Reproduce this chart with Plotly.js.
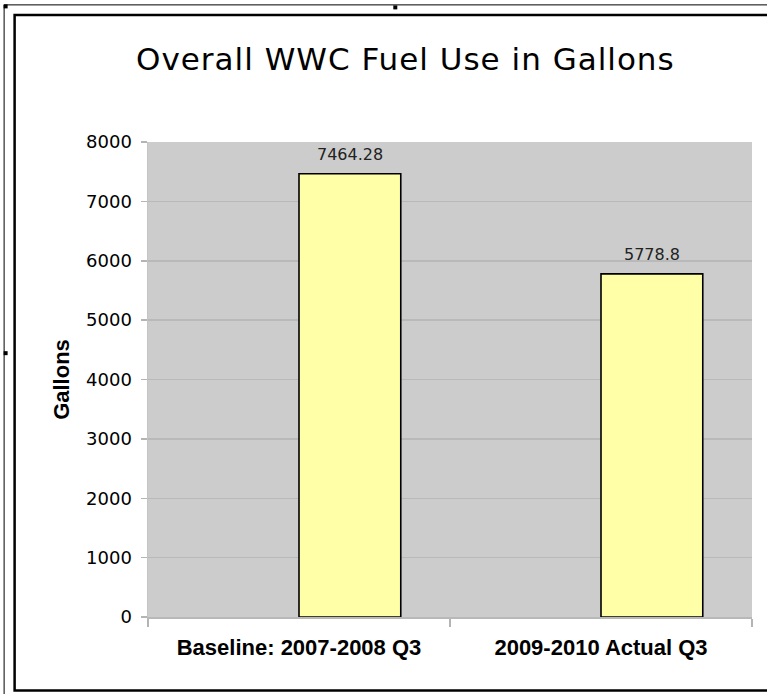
<!DOCTYPE html>
<html>
<head>
<meta charset="utf-8">
<script src="https://cdn.plot.ly/plotly-3.0.1.min.js"></script>
<style>
  html, body { margin: 0; padding: 0; background: #ffffff; }
  #chart { width: 767px; height: 694px; }
  .gtitle { letter-spacing: 1px; }
</style>
</head>
<body>
<div id="chart"></div>
<script>
// ---- data ----
const categories = ["Baseline: 2007-2008 Q3", "2009-2010 Actual Q3"];
const gallons = [7464.28, 5778.8];
const valueLabels = ["7464.28", "5778.8"];
const yTicks = [0, 1000, 2000, 3000, 4000, 5000, 6000, 7000, 8000];

// ---- layout helpers (pixel -> paper) ----
const W = 767, H = 694;
const M = { l: 147.5, r: 15, t: 141.7, b: 77 };
const PW = W - M.l - M.r, PH = H - M.t - M.b;
const px = x => (x - M.l) / PW;
const py = y => (H - M.b - y) / PH;

const barWidth = 0.337;

const trace = {
  type: "bar",
  x: categories,
  y: gallons,
  width: barWidth,
  offset: 0,
  marker: { color: "#ffffa8", line: { color: "#000000", width: 1.6 } },
  hoverinfo: "none"
};

const annotations = gallons.map((v, i) => ({
  x: i + barWidth / 2,
  y: v,
  xref: "x",
  yref: "y",
  text: valueLabels[i],
  showarrow: false,
  yanchor: "bottom",
  yshift: 8,
  font: { family: "DejaVu Sans", size: 16, color: "#222222" }
}));

const shapes = [
  // inner frame
  { type: "rect", xref: "paper", yref: "paper", x0: px(14), x1: px(772), y0: py(690.5), y1: py(14.5),
    line: { color: "#000000", width: 2.5 }, fillcolor: "rgba(0,0,0,0)" },
  // outer thin frame lines
  { type: "line", xref: "paper", yref: "paper", x0: px(3.5), x1: px(772), y0: py(4.5), y1: py(4.5),
    line: { color: "#000000", width: 1 } },
  { type: "line", xref: "paper", yref: "paper", x0: px(3.5), x1: px(3.5), y0: py(4.5), y1: py(700),
    line: { color: "#000000", width: 1 } },
  // small handle squares
  { type: "rect", xref: "paper", yref: "paper", x0: px(3), x1: px(7), y0: py(8), y1: py(4),
    line: { width: 0 }, fillcolor: "#000000" },
  { type: "rect", xref: "paper", yref: "paper", x0: px(3), x1: px(7), y0: py(355), y1: py(351),
    line: { width: 0 }, fillcolor: "#000000" },
  { type: "rect", xref: "paper", yref: "paper", x0: px(393), x1: px(397), y0: py(9), y1: py(5),
    line: { width: 0 }, fillcolor: "#000000" }
];

const layout = {
  width: W,
  height: H,
  margin: M,
  paper_bgcolor: "#ffffff",
  plot_bgcolor: "#cccccc",
  showlegend: false,
  title: {
    text: "Overall WWC Fuel Use in Gallons",
    xref: "container", yref: "container",
    x: 136 / W, xanchor: "left",
    y: 1 - 59 / H, yanchor: "middle",
    font: { family: "DejaVu Sans", size: 31, color: "#000000" }
  },
  xaxis: {
    type: "category",
    range: [-0.5, 1.5],
    tickson: "boundaries",
    ticks: "outside",
    ticklen: 8,
    tickcolor: "#b4b4b4",
    tickwidth: 1.5,
    showline: true,
    linecolor: "#b8b8b8",
    linewidth: 1.5,
    showgrid: false,
    ticklabelstandoff: 10,
    tickfont: { family: "Liberation Sans", size: 22, color: "#000000", weight: "bold" },
    fixedrange: true
  },
  yaxis: {
    range: [0, 8000],
    tickvals: yTicks,
    ticktext: yTicks.map(String),
    ticks: "outside",
    ticklen: 6,
    tickcolor: "#b4b4b4",
    tickwidth: 1.5,
    showline: true,
    linecolor: "#c4c4c4",
    linewidth: 1.5,
    showgrid: true,
    gridcolor: "#b9b9b9",
    gridwidth: 1.5,
    zeroline: false,
    ticklabelstandoff: 5,
    tickfont: { family: "DejaVu Sans", size: 18, color: "#000000" },
    title: {
      text: "Gallons",
      standoff: 10,
      font: { family: "Liberation Sans", size: 22, color: "#000000", weight: "bold" }
    },
    automargin: false,
    fixedrange: true
  },
  annotations: annotations,
  shapes: shapes
};

Plotly.newPlot("chart", [trace], layout, { displayModeBar: false, staticPlot: true });
</script>
</body>
</html>
